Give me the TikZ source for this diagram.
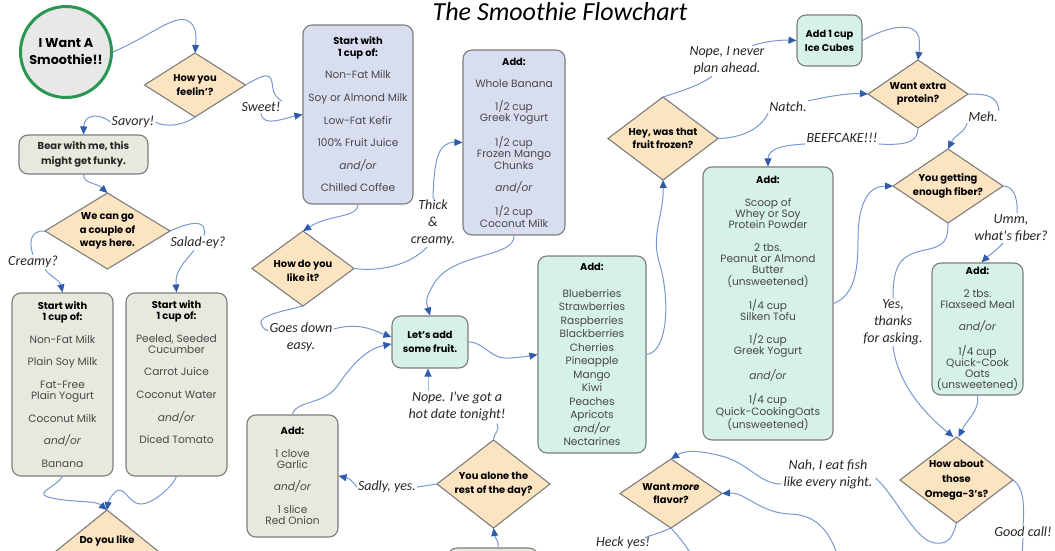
\documentclass[tikz,border=0pt]{standalone}
\usepackage{fontspec}
\setmainfont{Poppins}
\newfontfamily\hand{Carlito}
\usetikzlibrary{shapes.geometric,arrows.meta,calc}

\definecolor{diafill}{RGB}{252,228,192}
\definecolor{edgegray}{RGB}{125,125,125}
\definecolor{grayfill}{RGB}{231,233,222}
\definecolor{bluefill}{RGB}{216,222,240}
\definecolor{tealfill}{RGB}{214,240,234}
\definecolor{linkblue}{RGB}{118,152,210}
\definecolor{tipblue}{RGB}{48,92,172}
\definecolor{itemtext}{RGB}{72,72,72}
\definecolor{startgreen}{RGB}{42,150,82}
\definecolor{startfill}{RGB}{232,232,232}

\newcommand\itemsize{\fontsize{10.6}{11.3}\selectfont}
\newcommand\hd[1]{{\fontsize{9.9}{11.3}\selectfont\color{black}\bfseries #1}}
\newcommand\gp{\\[11.3pt]}

\tikzset{
  box/.style={draw=edgegray, line width=1.1pt, rounded corners=9pt, inner sep=2pt,
              align=center, font=\itemsize, text=itemtext},
  grbox/.style={box, fill=grayfill},
  blbox/.style={box, fill=bluefill},
  tlbox/.style={box, fill=tealfill},
  dia/.style={diamond, draw=edgegray, line width=1.1pt, fill=diafill, inner sep=0pt, outer sep=0pt},
  diatext/.style={font=\fontsize{9.9}{13.6}\selectfont\bfseries, align=center, text=black, inner sep=0pt},
  conn/.style={draw=linkblue, line width=1pt},
  arr/.style={conn, -{Triangle[length=8pt,width=7pt,color=tipblue]}},
  hw/.style={font=\hand\itshape\fontsize{14}{17}\selectfont, text=black!85, align=center, inner sep=1pt},
}

\begin{document}
\begin{tikzpicture}[x=1pt,y=-1pt]
\useasboundingbox (0,0) rectangle (1055,550);

% title
\node[font=\hand\itshape\fontsize{26}{28}\selectfont] (title) at (560,12) {The Smoothie Flowchart};

% start
\node[circle, draw=startgreen, line width=3pt, fill=startfill, minimum size=91pt, inner sep=0pt,
      font=\fontsize{12.8}{17}\selectfont\bfseries, align=center] (start) at (66,52) {I Want A\\Smoothie!!};

% decisions
\node[dia, minimum width=101pt, minimum height=64pt] (feel) at (195,85) {};
\node[diatext] (feelT) at (feel.center) {How you\\feelin'?};
\node[dia, minimum width=125pt, minimum height=76pt] (couple) at (107.5,231) {};
\node[diatext] (coupleT) at (couple.center) {We can go\\a couple of\\ways here.};
\node[dia, minimum width=124pt, minimum height=100pt] (doyou) at (107,560) {};
\node[diatext] (doyouT) at (107,541) {Do you like};
\node[dia, minimum width=102pt, minimum height=75pt] (howlike) at (303,268.5) {};
\node[diatext] (howlikeT) at (303,271) {How do you\\like it?};
\node[dia, minimum width=113pt, minimum height=88pt] (alone) at (493.5,484) {};
\node[diatext] (aloneT) at (alone.center) {You alone the\\rest of the day?};
\node[dia, minimum width=110pt, minimum height=83pt] (frozen) at (663,138.5) {};
\node[diatext] (frozenT) at (frozen.center) {Hey, was that\\fruit frozen?};
\node[dia, minimum width=100pt, minimum height=68pt] (protein) at (918,94) {};
\node[diatext] (proteinT) at (protein.center) {Want extra\\protein?};
\node[dia, minimum width=110pt, minimum height=74pt] (fiber) at (948,186) {};
\node[diatext] (fiberT) at (fiber.center) {You getting\\enough fiber?};
\node[dia, minimum width=113pt, minimum height=86pt] (omega) at (956.5,480) {};
\node[diatext, font=\fontsize{9.9}{15}\selectfont\bfseries] (omegaT) at (omega.center) {How about\\those\\Omega-3's?};
\node[dia, minimum width=102pt, minimum height=69pt] (flavor) at (671,493.5) {};
\node[diatext] (flavorT) at (flavor.center) {Want \textit{more}\\flavor?};

% boxes
\node[grbox, minimum width=129pt, minimum height=39pt, font=\fontsize{10}{14.5}\selectfont\bfseries, text=black!85]
  (bear) at (83.5,154.5) {Bear with me, this\\might get funky.};
\node[grbox, minimum width=101pt, minimum height=183pt] (creamybox) at (62.5,384.5)
  {\hd{Start with}\\\hd{1 cup of:}\gp Non-Fat Milk\gp Plain Soy Milk\gp Fat-Free\\Plain Yogurt\gp Coconut Milk\gp \textit{and/or}\gp Banana};
\node[grbox, minimum width=101pt, minimum height=183pt] (saladbox) at (176.5,384.5) {};
\node[align=center, font=\itemsize, text=itemtext, inner sep=0pt, anchor=north] (saladT) at (176.5,300)
  {\hd{Start with}\\\hd{1 cup of:}\gp Peeled, Seeded\\Cucumber\gp Carrot Juice\gp Coconut Water\gp \textit{and/or}\gp Diced Tomato};
\node[blbox, minimum width=110pt, minimum height=179pt] (milk1) at (358,114.5)
  {\hd{Start with}\\\hd{1 cup of:}\gp Non-Fat Milk\gp Soy or Almond Milk\gp Low-Fat Kefir\gp 100\% Fruit Juice\gp \textit{and/or}\gp Chilled Coffee};
\node[blbox, minimum width=102pt, minimum height=185pt] (add2) at (514,142.5)
  {\hd{Add:}\gp Whole Banana\gp 1/2 cup\\Greek Yogurt\gp 1/2 cup\\Frozen Mango\\Chunks\gp \textit{and/or}\gp 1/2 cup\\Coconut Milk};
\node[tlbox, minimum width=76pt, minimum height=52pt, font=\fontsize{9.8}{14}\selectfont\bfseries, text=black]
  (fruitq) at (430,342) {Let's add\\some fruit.};
\node[grbox, minimum width=91pt, minimum height=122pt] (garlic) at (292.5,476)
  {\hd{Add:}\gp 1 clove\\Garlic\gp \textit{and/or}\gp 1 slice\\Red Onion};
\node[grbox, minimum width=90pt, minimum height=60pt] (bottombox) at (493,578) {};
\node[tlbox, minimum width=108pt, minimum height=197pt, font=\fontsize{10.6}{13.5}\selectfont] (fruits) at (592,354.5)
  {\hd{Add:}\\[13.5pt]Blueberries\\Strawberries\\Raspberries\\Blackberries\\Cherries\\Pineapple\\Mango\\Kiwi\\Peaches\\Apricots\\\textit{and/or}\\Nectarines};
\node[tlbox, minimum width=65pt, minimum height=51pt, font=\fontsize{9.8}{14}\selectfont\bfseries, text=black]
  (ice) at (829.5,40.5) {Add 1 cup\\Ice Cubes};
\node[tlbox, minimum width=130pt, minimum height=273pt] (pbox) at (768,303.5)
  {\hd{Add:}\gp Scoop of\\Whey or Soy\\Protein Powder\gp 2 tbs.\\Peanut or Almond\\Butter\\(unsweetened)\gp 1/4 cup\\Silken Tofu\gp 1/2 cup\\Greek Yogurt\gp \textit{and/or}\gp 1/4 cup\\Quick-CookingOats\\(unsweetened)};
\node[tlbox, minimum width=91pt, minimum height=132pt] (flax) at (977.5,329)
  {\hd{Add:}\gp 2 tbs.\\Flaxseed Meal\gp \textit{and/or}\gp 1/4 cup\\Quick-Cook\\Oats\\(unsweetened)};

% handwritten answers
\node[hw] (lsweet) at (261,107) {Sweet!};
\node[hw] (lsavory) at (133,122) {Savory!};
\node[hw] (lcreamy) at (33,262) {Creamy?};
\node[hw] (lsalad) at (198,243) {Salad-ey?};
\node[hw] (lthick) at (433,223) {Thick\\\&\\creamy.};
\node[hw] (lgoes) at (301,337) {Goes down\\easy.};
\node[hw] (lnope) at (457,406) {Nope. I've got a\\hot date tonight!};
\node[hw] (lsadly) at (387,487) {Sadly, yes.};
\node[hw] (lnever) at (727,61) {Nope, I never\\plan ahead.};
\node[hw] (lnatch) at (788,107) {Natch.};
\node[hw] (lbeef) at (842,138) {BEEFCAKE!!!};
\node[hw] (lmeh) at (983,117) {Meh.};
\node[hw] (lumm) at (1011,228) {Umm,\\what's fiber?};
\node[hw] (lyes) at (893,322) {Yes,\\thanks\\for asking.};
\node[hw] (lnah) at (828,474) {Nah, I eat fish\\like every night.};
\node[hw] (lgood) at (1023,532) {Good call!};
\node[hw] (lheck) at (623,543) {Heck yes!};

% loose ends leaving the sheet
\coordinate (goodend) at (1022,556);
\coordinate (offbr) at (838,556);
\coordinate (offfl) at (692,556);

% connectors
\draw[arr] (start.east) .. controls (150,36) and (172,16) .. (186,20) .. controls (198,24) and (196,40) .. (feel.north);
\draw[conn] (feel.east) .. controls (258,78) and (270,70) .. (272,82) .. controls (273,90) and (273,95) .. (lsweet.north east);
\draw[arr] (lsweet.south) .. controls (262,128) and (285,118) .. (milk1.west);
\draw[conn] (feel.south) .. controls (185,125) and (165,128) .. (lsavory.east);
\draw[arr] (lsavory.west) .. controls (98,112) and (84,115) .. (bear.north);
\draw[arr] (bear.south) .. controls (84,184) and (95,182) .. (couple.north);
\draw[conn] (couple.west) .. controls (32,230) and (28,240) .. (lcreamy.north);
\draw[arr] ($(lcreamy.south)+(12,0)$) .. controls (50,277) and (60,280) .. (creamybox.north);
\draw[conn] (couple.east) .. controls (190,222) and (208,218) .. ($(lsalad.north)+(6,0)$);
\draw[arr] ($(lsalad.south)+(-4,0)$) .. controls (185,262) and (175,270) .. (saladbox.north);
\draw[arr] (creamybox.south) .. controls (55,488) and (35,492) .. (48,497) .. controls (70,503) and (95,500) .. (doyou.north);
\draw[arr] (saladbox.south) .. controls (170,490) and (150,505) .. (140,504) .. controls (128,503) and (124,484) .. (115,492) .. controls (110,497) and (108,503) .. (doyou.north);
\draw[arr] (milk1.south) .. controls (358,218) and (330,214) .. (howlike.north);
\draw[conn] (howlike.east) .. controls (380,272) and (410,265) .. ($(lthick.south)+(-6,0)$);
\draw[arr] (lthick.north) .. controls (434,160) and (438,142) .. (add2.west);
\draw[arr] (add2.south) .. controls (515,258) and (455,252) .. (435,282) .. controls (425,298) and (426,302) .. (fruitq.north);
\draw[conn] (howlike.south) .. controls (280,312) and (255,316) .. (262,326) .. controls (265,331) and (268,330) .. ($(lgoes.west)+(0,-6)$);
\draw[arr] ($(lgoes.east)+(0,-8)$) .. controls (360,322) and (372,330) .. ($(fruitq.west)+(0,-5)$);
\draw[arr] (garlic.north) .. controls (296,400) and (325,405) .. (338,385) .. controls (355,360) and (370,348) .. ($(fruitq.west)+(0,2)$);
\draw[arr] (fruitq.east) .. controls (485,342) and (490,360) .. (510,358) .. controls (522,357) and (530,356) .. (fruits.west);
\draw[conn] (alone.north) .. controls (494,432) and (500,432) .. ($(lnope.south)+(40,2)$);
\draw[arr] ($(lnope.north)+(-29,0)$) .. controls (428,382) and (428,378) .. ($(fruitq.south)+(-2,0)$);
\draw[conn] (alone.west) -- (lsadly.east);
\draw[arr] (lsadly.west) .. controls (352,480) and (348,478) .. (garlic.east);
\draw[arr] ($(bottombox.north)+(5,0)$) .. controls (499,540) and (495,538) .. (alone.south);
\draw[arr] (fruits.east) .. controls (668,352) and (670,300) .. (660,265) .. controls (650,235) and (664,215) .. (frozen.south);
\draw[conn] (frozen.north) .. controls (685,90) and (700,85) .. ($(lnever.south)+(-15,0)$);
\draw[arr] ($(lnever.north)+(25,0)$) .. controls (770,40) and (785,40) .. (ice.west);
\draw[conn] (frozen.east) .. controls (740,138) and (760,130) .. (lnatch.south west);
\draw[arr] (lnatch.north east) .. controls (830,96) and (850,93) .. (protein.west);
\draw[arr] (ice.east) .. controls (880,30) and (915,18) .. (919,38) .. controls (920,45) and (919,52) .. (protein.north);
\draw[conn] (protein.south) .. controls (918,140) and (910,146) .. (lbeef.south east);
\draw[arr] (lbeef.south west) .. controls (785,145) and (768,148) .. (pbox.north);
\draw[conn] (protein.east) .. controls (985,94) and (998,95) .. (lmeh.north east);
\draw[arr] (lmeh.south west) .. controls (965,132) and (955,135) .. (fiber.north);
\draw[arr] (pbox.east) .. controls (855,295) and (858,270) .. (858,240) .. controls (858,200) and (870,186) .. (fiber.west);
\draw[conn] (fiber.east) .. controls (1012,186) and (1018,195) .. ($(lumm.north)+(6,0)$);
\draw[arr] ($(lumm.south)+(-8,0)$) .. controls (995,252) and (988,256) .. ($(flax.north)+(4,0)$);
\draw[conn] (fiber.south) .. controls (948,240) and (945,246) .. (925,250) .. controls (900,255) and (893,265) .. (lyes.north);
\draw[arr] (lyes.south) .. controls (897,380) and (920,410) .. ($(omega.north)+(-3,0)$);
\draw[arr] (flax.south) .. controls (980,410) and (968,418) .. ($(omega.north)+(2,0)$);
\draw[conn] (omega.south) .. controls (953,535) and (950,545) .. (935,543) .. controls (915,541) and (895,495) .. ($(lnah.east)+(2,4)$);
\draw[arr] ($(lnah.west)+(-1,10)$) .. controls (760,484) and (750,465) .. (725,457) .. controls (700,450) and (685,450) .. (flavor.north);
\draw[conn] (omega.east) .. controls (1022,486) and (1025,500) .. (lgood.north);
\draw[conn] (lgood.south) -- (goodend);
\draw[arr] (offbr) .. controls (830,535) and (820,515) .. (790,514) .. controls (760,513) and (745,492) .. (flavor.east);
\draw[conn] (flavor.south) .. controls (660,533) and (648,536) .. ($(lheck.north)+(22,2)$);
\draw[conn] (flavor.south) .. controls (678,536) and (686,545) .. (offfl);
\end{tikzpicture}
\end{document}
